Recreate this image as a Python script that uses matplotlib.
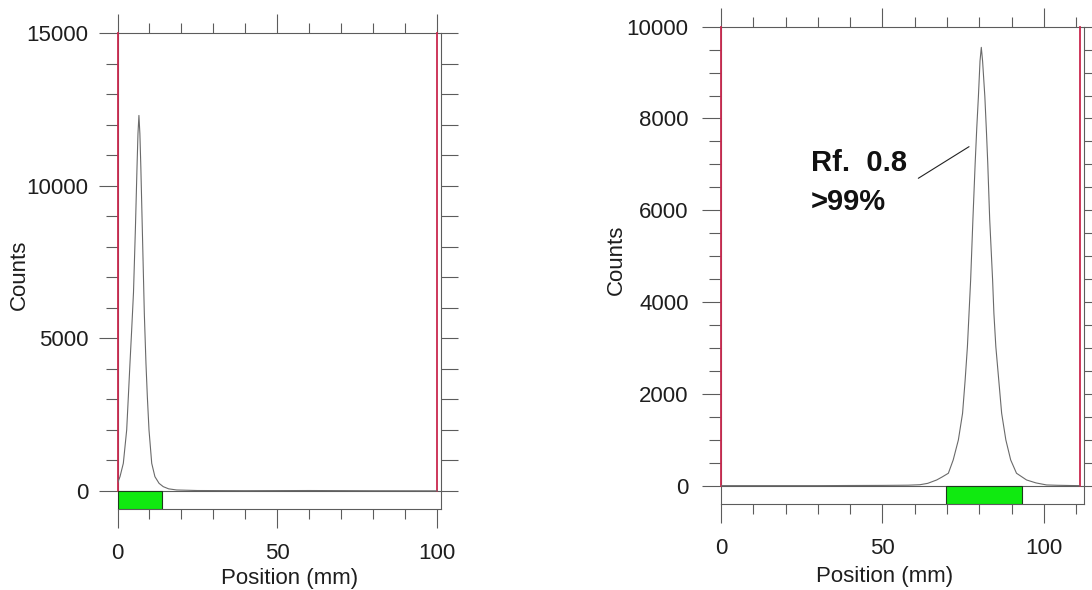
import matplotlib
matplotlib.use("Agg")
import matplotlib.pyplot as plt
from matplotlib.ticker import FixedLocator, MultipleLocator, NullFormatter

plt.rcParams['font.family'] = ['Liberation Sans', 'DejaVu Sans']

# ---------------- data ----------------
# Left radiochromatogram
left_pos = [0, 0.78, 1.82, 2.87, 3.39, 3.9, 4.43, 5.0, 5.6, 6.1, 6.4, 6.7,
            7.0, 7.3, 7.8, 8.39, 8.9, 9.33, 9.85, 10.7, 11.7, 13, 14.3, 16,
            18.5, 25, 40, 60, 80, 100]
left_counts = [251, 469, 906, 1998, 3089, 4181, 5273, 6500, 8600, 10600,
               11700, 12300, 11700, 10600, 8400, 5800, 4181, 3089, 1998, 906,
               469, 250, 142, 70, 33, 15, 10, 15, 8, 5]
left_yticks = [0, 5000, 10000, 15000]
left_xticks = [0, 50, 100]
left_band = [0, 13.9]          # green region of interest (mm)
left_front = [0, 100]          # origin / front markers (mm)

# Right radiochromatogram
right_pos = [0, 10, 20, 30, 40, 50, 55, 58, 61.6, 64, 66.8, 68.5, 70.4, 71.9,
             73.5, 74.8, 75.6, 76.3, 76.8, 77.3, 78.0, 78.7, 79.2, 79.7, 80.2,
             80.6, 81.0, 81.7, 82.2, 82.6, 83.2, 84.1, 84.5, 85.1, 86.0, 86.9,
             88.2, 89.7, 91.5, 94.6, 97.5, 100.8, 104, 108, 111]
right_counts = [0, 0, 0, 0, 3, 5, 8, 10, 20, 50, 124, 190, 270, 560, 996,
                1577, 2303, 3028, 3755, 4481, 5800, 7024, 7800, 8475, 9250,
                9550, 9250, 8475, 7700, 7024, 5800, 4481, 3755, 3028, 2303,
                1577, 996, 560, 270, 124, 60, 15, 8, 3, 0]
right_yticks = [0, 2000, 4000, 6000, 8000, 10000]
right_xticks = [0, 50, 100]
right_band = [69.7, 93.2]
right_front = [0, 111.3]

annotation = ["Rf.  0.8", ">99%"]

xlabel = "Position (mm)"
ylabel = "Counts"

# ---------------- styling ----------------
AX_COL = '#5c5c5c'
CURVE_COL = '#6a6a6a'
RED = '#c9284e'
GREEN = '#10ea10'
TXT = '#1e1e1e'
FS = 16

fig = plt.figure(figsize=(10.92, 5.90), dpi=100)

def panel(rect, xlim, ylim, pos, counts, yticks, yminor, xticks, band, front,
          ypad, xlabel_xy, ylabel_xy):
    ax = fig.add_axes(rect)
    ax.set_xlim(*xlim)
    ax.set_ylim(*ylim)
    for s in ax.spines.values():
        s.set_color(AX_COL)
        s.set_linewidth(0.8)
    # baseline at zero
    ax.axhline(0, color=AX_COL, lw=0.8, zorder=2)
    # origin / front lines
    for fx in front:
        ax.plot([fx, fx], [0, ylim[1]], color=RED, lw=1.3, zorder=3,
                clip_on=False)
    # green region
    ax.bar(band[0], 0 - ylim[0], bottom=ylim[0], width=band[1] - band[0],
           align='edge', color=GREEN, edgecolor='#1d3b1d', lw=0.8, zorder=4)
    # trace
    ax.plot(pos, counts, color=CURVE_COL, lw=0.8, zorder=5)

    ax.xaxis.set_major_locator(FixedLocator(xticks))
    ax.xaxis.set_minor_locator(MultipleLocator(10))
    ax.yaxis.set_major_locator(FixedLocator(yticks))
    ax.yaxis.set_minor_locator(MultipleLocator(yminor))
    ax.tick_params(axis='x', which='both', top=True, bottom=True,
                   direction='out', color=AX_COL, width=0.8,
                   labelsize=FS, labelcolor=TXT, pad=11)
    ax.tick_params(axis='x', which='major', length=13.5)
    ax.tick_params(axis='x', which='minor', length=7.5)
    ax.tick_params(axis='y', which='both', left=True, right=False,
                   direction='out', color=AX_COL, width=0.8,
                   labelsize=FS, labelcolor=TXT, pad=ypad)
    ax.tick_params(axis='y', which='major', length=14)
    ax.tick_params(axis='y', which='minor', length=9)

    # right-hand ticks
    ax2 = ax.twinx()
    ax2.set_ylim(*ylim)
    ax2.yaxis.set_major_locator(FixedLocator(yticks))
    ax2.yaxis.set_minor_locator(MultipleLocator(yminor))
    ax2.yaxis.set_major_formatter(NullFormatter())
    ax2.tick_params(axis='y', which='both', direction='out', color=AX_COL,
                    width=0.8, length=12.5)
    for s in ax2.spines.values():
        s.set_visible(False)

    ax.set_xlabel(xlabel, fontsize=FS, color=TXT)
    ax.xaxis.set_label_coords(*xlabel_xy)
    ax.xaxis.label.set_va('center')
    ax.set_ylabel(ylabel, fontsize=FS, color=TXT)
    ax.yaxis.set_label_coords(*ylabel_xy)
    ax.yaxis.label.set_va('center')
    ax.yaxis.label.set_ha('center')
    return ax

W, H = 1092.0, 590.0
axL = panel([117.5 / W, (H - 509) / H, 323.2 / W, 476 / H],
            (0, 101.06), (-590, 15000), left_pos, left_counts, left_yticks,
            1000, left_xticks, left_band, left_front, 7,
            (0.533, -0.145), (-0.305, 0.4916))
axR = panel([721 / W, (H - 504) / H, 363 / W, 477.3 / H],
            (0, 112.4), (-400, 10000), right_pos, right_counts, right_yticks,
            500, right_xticks, right_band, right_front, 9.4,
            (0.4505, -0.1523), (-0.2875, 0.511))

# annotation on the right panel
axR.text(27.9, 6856, annotation[0], fontsize=21, fontweight='bold',
         color='#111111', ha='left', va='baseline')
axR.text(27.9, 6006, annotation[1], fontsize=21, fontweight='bold',
         color='#111111', ha='left', va='baseline')
axR.annotate('', xy=(76.8, 7386), xytext=(61.1, 6697),
             arrowprops=dict(arrowstyle='-', lw=0.8, color='#222222',
                             shrinkA=0, shrinkB=0))

fig.savefig('out.png', dpi=100)
